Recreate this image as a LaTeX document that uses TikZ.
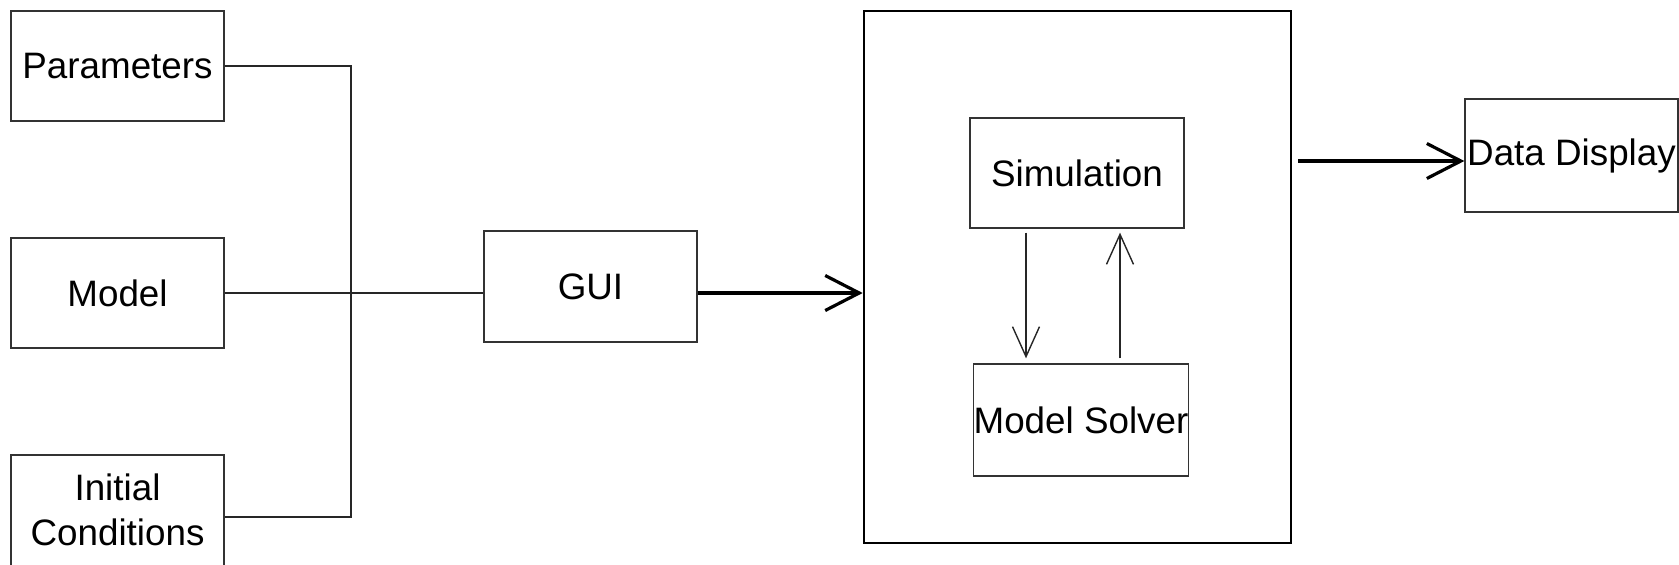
\documentclass[tikz,border=0pt]{standalone}
\usepackage{fontspec}
\setmainfont{Liberation Sans}
\usetikzlibrary{arrows.meta}

\tikzset{
  box/.style={draw=black!80, line width=1.3pt, rectangle, inner sep=0pt,
    font=\fontsize{36.8}{45.5}\selectfont, align=center},
  lbl/.style={inner sep=0pt, font=\fontsize{36.8}{45.5}\selectfont, align=center},
  wire/.style={draw=black!85, line width=1.4pt},
  thickarrow/.style={draw=black, line width=3.2pt,
    -{Straight Barb[length=34pt,width=35pt]}},
  thinarrow/.style={draw=black!85, line width=1.4pt,
    -{Straight Barb[length=30pt,width=27pt]}}
}

\begin{document}
\begin{tikzpicture}[x=1pt, y=-1pt]
  \useasboundingbox (0,0) rectangle (1679,565);

  % input blocks
  \node[box, minimum width=213pt, minimum height=110pt] (par) at (117.5,66) {Parameters};
  \node[box, minimum width=213pt, minimum height=110pt] (mod) at (117.5,293) {Model};
  \node[box, minimum width=213pt, minimum height=112pt,
        label={[lbl, yshift=1pt]center:Initial\\Conditions}] (ini) at (117.5,511) {};

  % user interface
  \node[box, minimum width=213pt, minimum height=111pt] (gui) at (590.5,286.5) {GUI};

  % simulation engine
  \node[draw=black, line width=2.6pt, rectangle, inner sep=0pt,
        minimum width=427pt, minimum height=532pt] (big) at (1077.5,277) {};
  \node[box, minimum width=214pt, minimum height=110pt] (sim) at (1077,173) {Simulation};
  \node[box, minimum width=214pt, minimum height=112pt] (sol) at (1081,420) {Model Solver};

  % output
  \node[box, minimum width=213pt, minimum height=113pt] (disp) at (1571.5,155.5) {Data Display};

  % collecting bus
  \coordinate (busTop) at (351,66);
  \coordinate (busBot) at (351,517);
  \draw[wire] (par.east |- busTop) -- (busTop) -- (busBot) -- (ini.east |- busBot);
  \draw[wire] (mod.east) -- (mod.east -| gui.west);

  % main flow
  \draw[thickarrow] (gui.east |- mod.east) -- (big.west |- mod.east);
  \coordinate (dispIn) at (1465,161);
  \draw[thickarrow, shorten <=6pt] (big.east |- dispIn) -- (disp.west |- dispIn);

  % solver loop
  \coordinate (downX) at (1026,0);
  \coordinate (upX) at (1120,0);
  \draw[thinarrow, shorten <=4pt, shorten >=5pt] (sim.south -| downX) -- (sol.north -| downX);
  \draw[thinarrow, shorten <=5pt, shorten >=4pt] (sol.north -| upX) -- (sim.south -| upX);
\end{tikzpicture}
\end{document}
